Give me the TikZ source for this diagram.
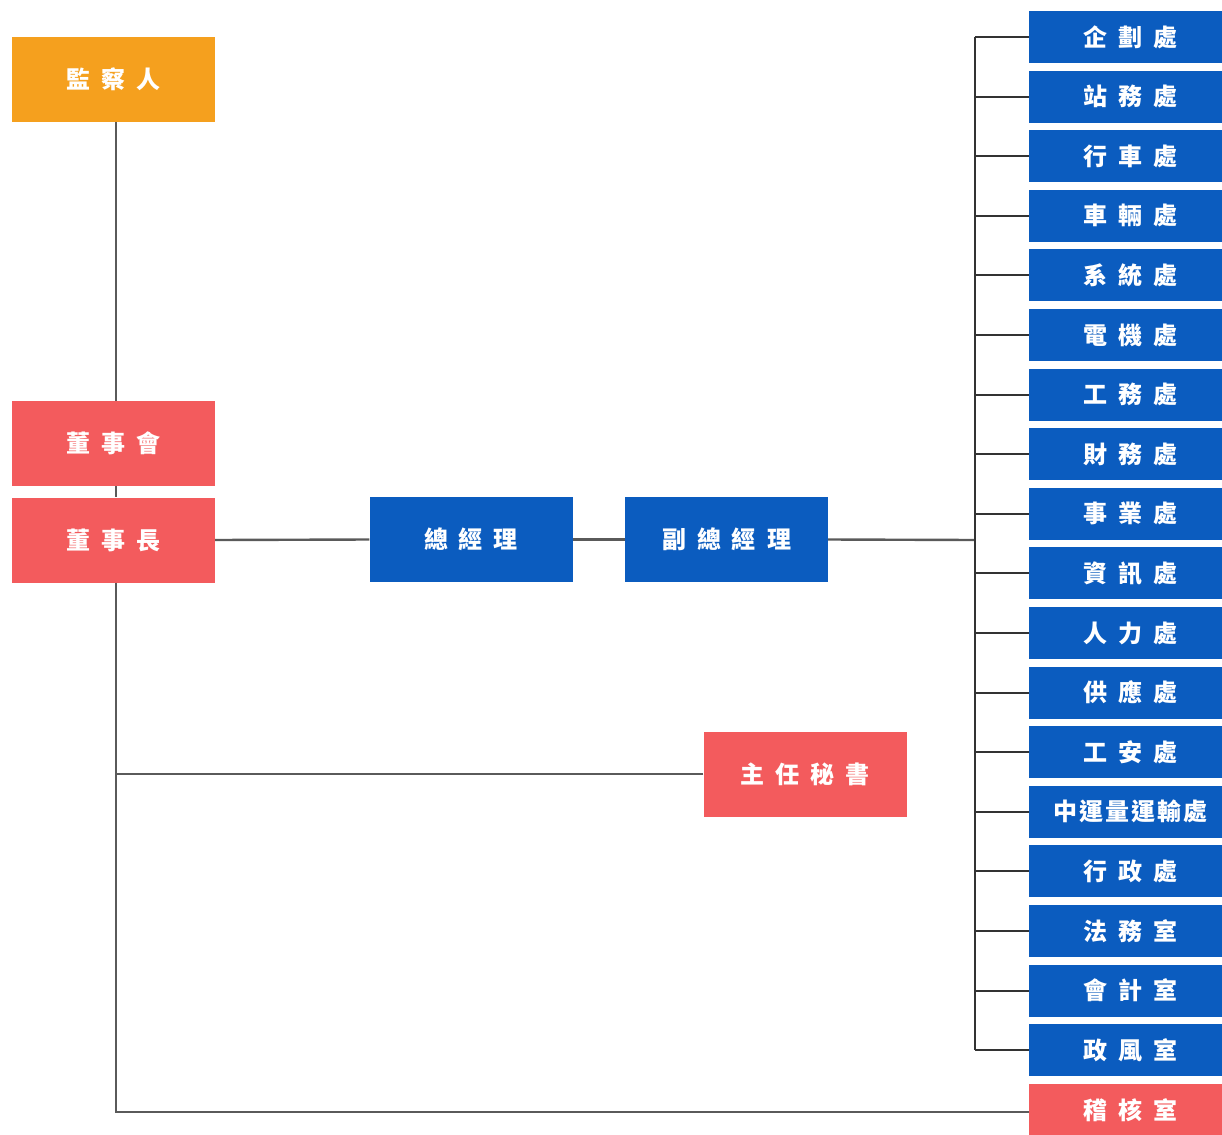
\documentclass[tikz,border=0pt]{standalone}
\usepackage{fontspec}
\newfontfamily\cjk{Noto Sans CJK TC}
\newcommand\gp{\hspace{11pt}}
\definecolor{borange}{HTML}{F5A01E}
\definecolor{bred}{HTML}{F35B5D}
\definecolor{bblue}{HTML}{0B5CBF}
\definecolor{lgray}{HTML}{5A5A5A}
\definecolor{ldark}{HTML}{333333}
\tikzset{
  box/.style={draw=none, inner sep=0pt, text=white, font=\cjk\bfseries\fontsize{24pt}{26pt}\selectfont},
  bigbox/.style={box, minimum width=203pt, minimum height=85pt},
  unit/.style={box, fill=bblue, minimum width=193pt, minimum height=52pt, execute at begin node={\hspace{9pt}}},
  trunk/.style={draw=lgray, line width=2.4pt},
  bus/.style={draw=ldark, line width=2pt},
}
\begin{document}
\begin{tikzpicture}[x=1pt,y=-1pt]
\useasboundingbox (0,0) rectangle (1222,1134);
\node[bigbox, fill=borange] (jcr) at (113.5,79.5) {監\gp 察\gp 人};
\node[bigbox, fill=bred] (dsh) at (113.5,443.5) {董\gp 事\gp 會};
\node[bigbox, fill=bred] (dsz) at (113.5,540) {董\gp 事\gp 長};
\node[bigbox, fill=bblue] (zjl) at (471,539.5) {總\gp 經\gp 理};
\node[bigbox, fill=bblue] (fzjl) at (726.5,539.5) {副\gp 總\gp 經\gp 理};
\node[bigbox, fill=bred] (zrms) at (805,774) {主\gp 任\gp 秘\gp 書};
\foreach \i/\t in {0/企\gp 劃\gp 處,1/站\gp 務\gp 處,2/行\gp 車\gp 處,3/車\gp 輛\gp 處,4/系\gp 統\gp 處,5/電\gp 機\gp 處,6/工\gp 務\gp 處,7/財\gp 務\gp 處,8/事\gp 業\gp 處,9/資\gp 訊\gp 處,10/人\gp 力\gp 處,11/供\gp 應\gp 處,12/工\gp 安\gp 處,13/中\hspace{2pt}運\hspace{2pt}量\hspace{2pt}運\hspace{2pt}輸\hspace{2pt}處,14/行\gp 政\gp 處,15/法\gp 務\gp 室,16/會\gp 計\gp 室,17/政\gp 風\gp 室}{
  \node[unit] (r\i) at (1125.5,{37+59.6*\i}) {\t};
}
\node[unit, fill=bred] (jh) at (1125.5,1109.8) {稽\gp 核\gp 室};
\coordinate (tx) at (116,0);
\coordinate (bx) at (975,540);
\coordinate (corner) at (116,1112);
% trunk
\draw[trunk] (jcr.south -| tx) -- (dsh.north -| tx);
\draw[trunk] (dsh.south -| tx) -- (dsz.north -| tx);
\draw[trunk] (dsz.south -| tx) -- (corner) -- (corner -| jh.west);
\draw[trunk] (zrms.west) -- (zrms.west -| tx);
\draw[trunk] (dsz.east) -- (zjl.west);
\draw[trunk] (zjl.east) -- (fzjl.west);
\draw[trunk] (fzjl.east) -- (bx);
% bus
\draw[bus] (r0.west -| bx) -- (r17.west -| bx);
\foreach \i in {0,...,17}{
  \draw[bus] (r\i.west) -- (r\i.west -| bx);
}
\end{tikzpicture}
\end{document}
